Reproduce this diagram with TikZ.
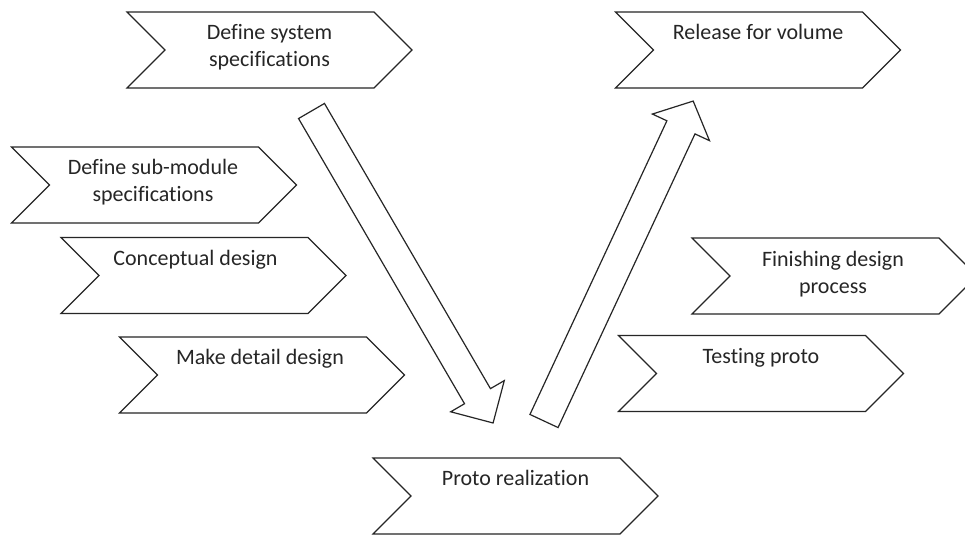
\documentclass[tikz,border=0pt]{standalone}
\usepackage{fontspec}
\setmainfont{Carlito}[Ligatures={NoCommon}]
\usetikzlibrary{shapes.symbols}
\tikzset{
  chev/.style={draw=black!85, line width=1.2pt, fill=white, signal, signal to=east, signal from=west,
    signal pointer angle=90, minimum width=285pt, minimum height=76pt, inner sep=0pt},
  lbl/.style={font=\fontsize{22}{27}\selectfont, align=center, anchor=north, inner sep=0pt, text=black!85},
  blockarrow/.style={draw=black!85, line width=1.2pt, line join=miter, fill=white}
}
\begin{document}
\begin{tikzpicture}[x=1pt, y=-1pt]
\useasboundingbox[fill=white] (0,0) rectangle (965,537);

% chevrons
\node[chev] (sys)     at (269.5,50)  {};
\node[chev] (rel)     at (758,50)    {};
\node[chev] (sub)     at (154,185)   {};
\node[chev] (concept) at (203.5,275.5) {};
\node[chev] (detail)  at (262,375)   {};
\node[chev] (proto)   at (515.5,496) {};
\node[chev] (finish)  at (834.5,276) {};
\node[chev] (test)    at (761,373.5) {};

% labels
\node[lbl] (tsys)     at ([yshift=-9.5pt]sys.north)                 {\strut Define system\\\strut specifications};
\node[lbl] (trel)     at ([yshift=-9pt]rel.north)                   {\strut Release for volume};
\node[lbl] (tsub)     at ([xshift=-1pt,yshift=-9.5pt]sub.north)     {\strut Define sub-module\\\strut specifications};
\node[lbl] (tconcept) at ([xshift=-8pt,yshift=-9pt]concept.north)   {\strut Conceptual design};
\node[lbl] (tdetail)  at ([xshift=-2pt,yshift=-9pt]detail.north)    {\strut Make detail design};
\node[lbl] (tproto)   at ([yshift=-9pt]proto.north)                 {\strut Proto realization};
\node[lbl] (tfinish)  at ([xshift=-1.5pt,yshift=-9.5pt]finish.north){\strut Finishing design\\\strut process};
\node[lbl] (ttest)    at ([yshift=-9pt]test.north)                  {\strut Testing proto};

% block arrows
\draw[blockarrow, shift={(311.5,111)}, rotate=-59.8]
  (0,-15) -- (330,-15) -- (330,-31) -- (361,0) -- (330,31) -- (330,15) -- (0,15) -- cycle;
\draw[blockarrow, shift={(544,421)}, rotate=65.0]
  (0,-15.5) -- (324,-15.5) -- (324,-31.5) -- (353,0) -- (324,31.5) -- (324,15.5) -- (0,15.5) -- cycle;
\end{tikzpicture}
\end{document}
